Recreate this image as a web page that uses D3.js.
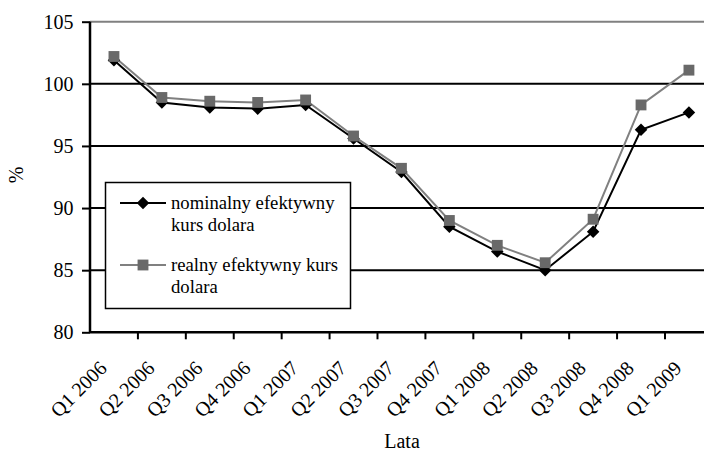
<!DOCTYPE html>
<html>
<head>
<meta charset="utf-8">
<script src="https://cdn.jsdelivr.net/npm/d3@7"></script>
<style>
  body { margin: 0; background: #fff; }
  svg text { font-family: 'Liberation Serif', Tinos, 'Times New Roman', 'DejaVu Serif', serif; fill: #000; }
</style>
</head>
<body>
<svg id="chart" width="704" height="453"></svg>
<script>
// quarters on the x axis
const quarters = ['Q1 2006', 'Q2 2006', 'Q3 2006', 'Q4 2006', 'Q1 2007', 'Q2 2007', 'Q3 2007',
  'Q4 2007', 'Q1 2008', 'Q2 2008', 'Q3 2008', 'Q4 2008', 'Q1 2009'];
// nominalny efektywny kurs dolara
const nominal = [101.9, 98.5, 98.1, 98.0, 98.3, 95.6, 92.9, 88.5, 86.5, 85.0, 88.1, 96.3, 97.7];
// realny efektywny kurs dolara
const real = [102.2, 98.9, 98.6, 98.5, 98.7, 95.8, 93.2, 89.0, 87.0, 85.6, 89.1, 98.3, 101.1];
const yTicks = [80, 85, 90, 95, 100, 105];
const seriesNames = ['nominalny efektywny|kurs dolara', 'realny efektywny kurs|dolara'];

const svg = d3.select('#chart');
const fontSize = 20;      // axis labels and titles
const legendFont = 18.7;  // legend entries
const serif = "'Liberation Serif', Tinos, 'Times New Roman', 'DejaVu Serif', serif";

const x = d3.scaleBand().domain(quarters).range([90, 712.9]);
const y = d3.scaleLinear().domain([80, 105]).range([332.3, 21.7]);

// gridlines (top one is gray, like the plot border)
svg.append('g')
  .selectAll('line')
  .data(yTicks.slice(1))
  .enter()
  .append('line')
  .attr('x1', 90)
  .attr('x2', 704)
  .attr('y1', d => y(d))
  .attr('y2', d => y(d))
  .style('stroke', d => d === 105 ? '#808080' : '#000')
  .style('stroke-width', 2);

// y axis
const yAxis = svg.append('g')
  .attr('transform', 'translate(90,0)')
  .call(d3.axisLeft(y).tickValues(yTicks).tickSize(8).tickPadding(8.5));
yAxis.attr('font-family', serif);
yAxis.select('.domain').attr('stroke-width', 2.5).attr('d', `M0,${y(80)}V${y(105)}`);
yAxis.selectAll('.tick line').attr('stroke-width', 2);
yAxis.selectAll('text')
  .style('font-size', fontSize + 'px');

// x axis, ticks between categories
const xAxis = svg.append('g').attr('transform', `translate(0,${y(80)})`);
xAxis.append('line')
  .attr('x1', 90).attr('x2', 704)
  .style('stroke', '#000').style('stroke-width', 2.5);
xAxis.selectAll('.xtick')
  .data(quarters.slice(1))
  .enter()
  .append('line')
  .attr('x1', d => x(d)).attr('x2', d => x(d))
  .attr('y1', 0).attr('y2', 7)
  .style('stroke', '#000').style('stroke-width', 2);
xAxis.selectAll('text')
  .data(quarters)
  .enter()
  .append('text')
  .attr('transform', d => `translate(${x(d) + x.bandwidth() / 2 - 6},37) rotate(-45)`)
  .style('text-anchor', 'end')
  .style('font-size', fontSize + 'px')
  .text(d => d);

// axis titles
svg.append('text')
  .attr('x', 402).attr('y', 448)
  .style('text-anchor', 'middle')
  .style('font-size', fontSize + 'px')
  .text('Lata');
svg.append('text')
  .attr('transform', 'translate(23,175) rotate(-90)')
  .style('text-anchor', 'middle')
  .style('font-size', fontSize + 'px')
  .text('%');

const line = d3.line()
  .x((d, i) => x(quarters[i]) + x.bandwidth() / 2)
  .y(d => y(d));

const diamond = d3.symbol().type(d3.symbolDiamond2).size(100);
const square = d3.symbol().type(d3.symbolSquare2).size(150);

// real series (gray squares)
svg.append('path')
  .datum(real)
  .attr('d', line)
  .style('fill', 'none')
  .style('stroke', '#808080')
  .style('stroke-width', 2);

// nominal series (black diamonds)
svg.append('path')
  .datum(nominal)
  .attr('d', line)
  .style('fill', 'none')
  .style('stroke', '#000')
  .style('stroke-width', 2);

svg.append('g')
  .selectAll('path')
  .data(nominal)
  .enter()
  .append('path')
  .attr('d', diamond)
  .attr('transform', (d, i) => `translate(${x(quarters[i]) + x.bandwidth() / 2},${y(d)})`)
  .style('fill', '#000');

svg.append('g')
  .selectAll('path')
  .data(real)
  .enter()
  .append('path')
  .attr('d', square)
  .attr('transform', (d, i) => `translate(${x(quarters[i]) + x.bandwidth() / 2},${y(d)})`)
  .style('fill', '#696969');

// legend
const legend = svg.append('g');
legend.append('rect')
  .attr('x', 105.5).attr('y', 182.5)
  .attr('width', 245).attr('height', 126)
  .style('fill', '#fff')
  .style('stroke', '#000')
  .style('stroke-width', 1.5);

const legendRows = [
  { y: 203, color: '#000', sym: diamond, fill: '#000' },
  { y: 265, color: '#808080', sym: square, fill: '#696969' }
];
legendRows.forEach((r, i) => {
  legend.append('line')
    .attr('x1', 120).attr('x2', 166)
    .attr('y1', r.y).attr('y2', r.y)
    .style('stroke', r.color).style('stroke-width', 2);
  legend.append('path')
    .attr('d', r.sym)
    .attr('transform', `translate(143,${r.y})`)
    .style('fill', r.fill);
  const t = legend.append('text')
    .attr('x', 171).attr('y', r.y + 6)
    .style('font-size', legendFont + 'px');
  seriesNames[i].split('|').forEach((s, j) => {
    t.append('tspan').attr('x', 171).attr('dy', j === 0 ? 0 : 22).text(s);
  });
});
</script>
</body>
</html>
